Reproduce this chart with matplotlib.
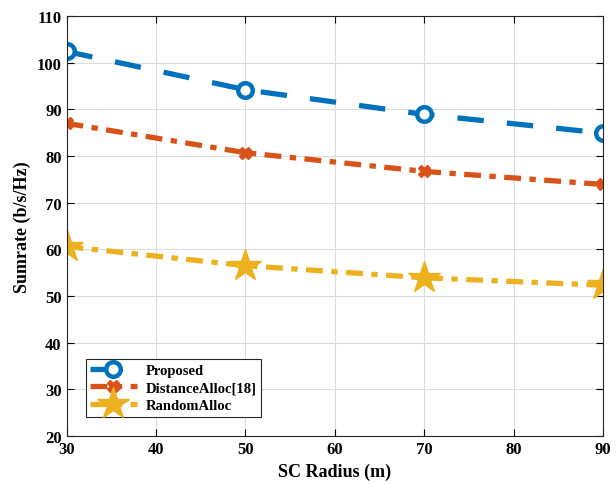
import matplotlib.pyplot as plt
import numpy as np

plt.rcParams['font.family'] = ['Liberation Serif', 'DejaVu Serif']
plt.rcParams['font.weight'] = 'bold'

radius = [30, 50, 70, 90]
proposed = [102.4, 94.2, 88.9, 84.9]
distance = [87.0, 80.7, 76.7, 73.9]
random_alloc = [60.6, 56.5, 53.9, 52.3]

c1 = '#0072BD'
c2 = '#D95319'
c3 = '#EDB120'

fig = plt.figure(figsize=(6.16, 4.85), dpi=100)
ax = fig.add_axes([0.108, 0.099, 0.871, 0.866])

ax.plot(radius, proposed, color=c1, lw=3.8, ls=(0, (5, 4.4)), marker='o', ms=10.5,
        mfc='white', mec=c1, mew=3.2, label='Proposed')
ax.plot(radius, distance, color=c2, lw=3.8, ls=(0, (3.2, 1.6, 1.2, 1.6)), marker='X', ms=9,
        mfc=c2, mec=c2, mew=1, label='DistanceAlloc[18]')
ax.plot(radius, random_alloc, color=c3, lw=3.8, ls=(0, (3.2, 1.6, 1.2, 1.6)), marker='*', ms=24,
        mfc=c3, mec=c3, label='RandomAlloc')

ax.set_xlim(30, 90)
ax.set_ylim(20, 110)
ax.set_xticks(np.arange(30, 91, 10))
ax.set_yticks(np.arange(20, 111, 10))
ax.grid(True, color='#dcdcdc', lw=0.8)
ax.tick_params(direction='in', length=5, labelsize=12, top=True, right=True)
for s in ax.spines.values():
    s.set_color('#262626')
    s.set_linewidth(0.8)
ax.set_xlabel('SC Radius (m)', fontsize=13, fontweight='bold')
ax.set_ylabel('Sumrate (b/s/Hz)', fontsize=13, fontweight='bold')

leg = ax.legend(loc='lower left', bbox_to_anchor=(0.022, 0.029), fontsize=10.5, fancybox=False,
                edgecolor='#262626', framealpha=1, handlelength=3.2, borderpad=0.3,
                labelspacing=0.3, handletextpad=0.6)
leg.get_frame().set_linewidth(0.8)

plt.savefig('out.png')
